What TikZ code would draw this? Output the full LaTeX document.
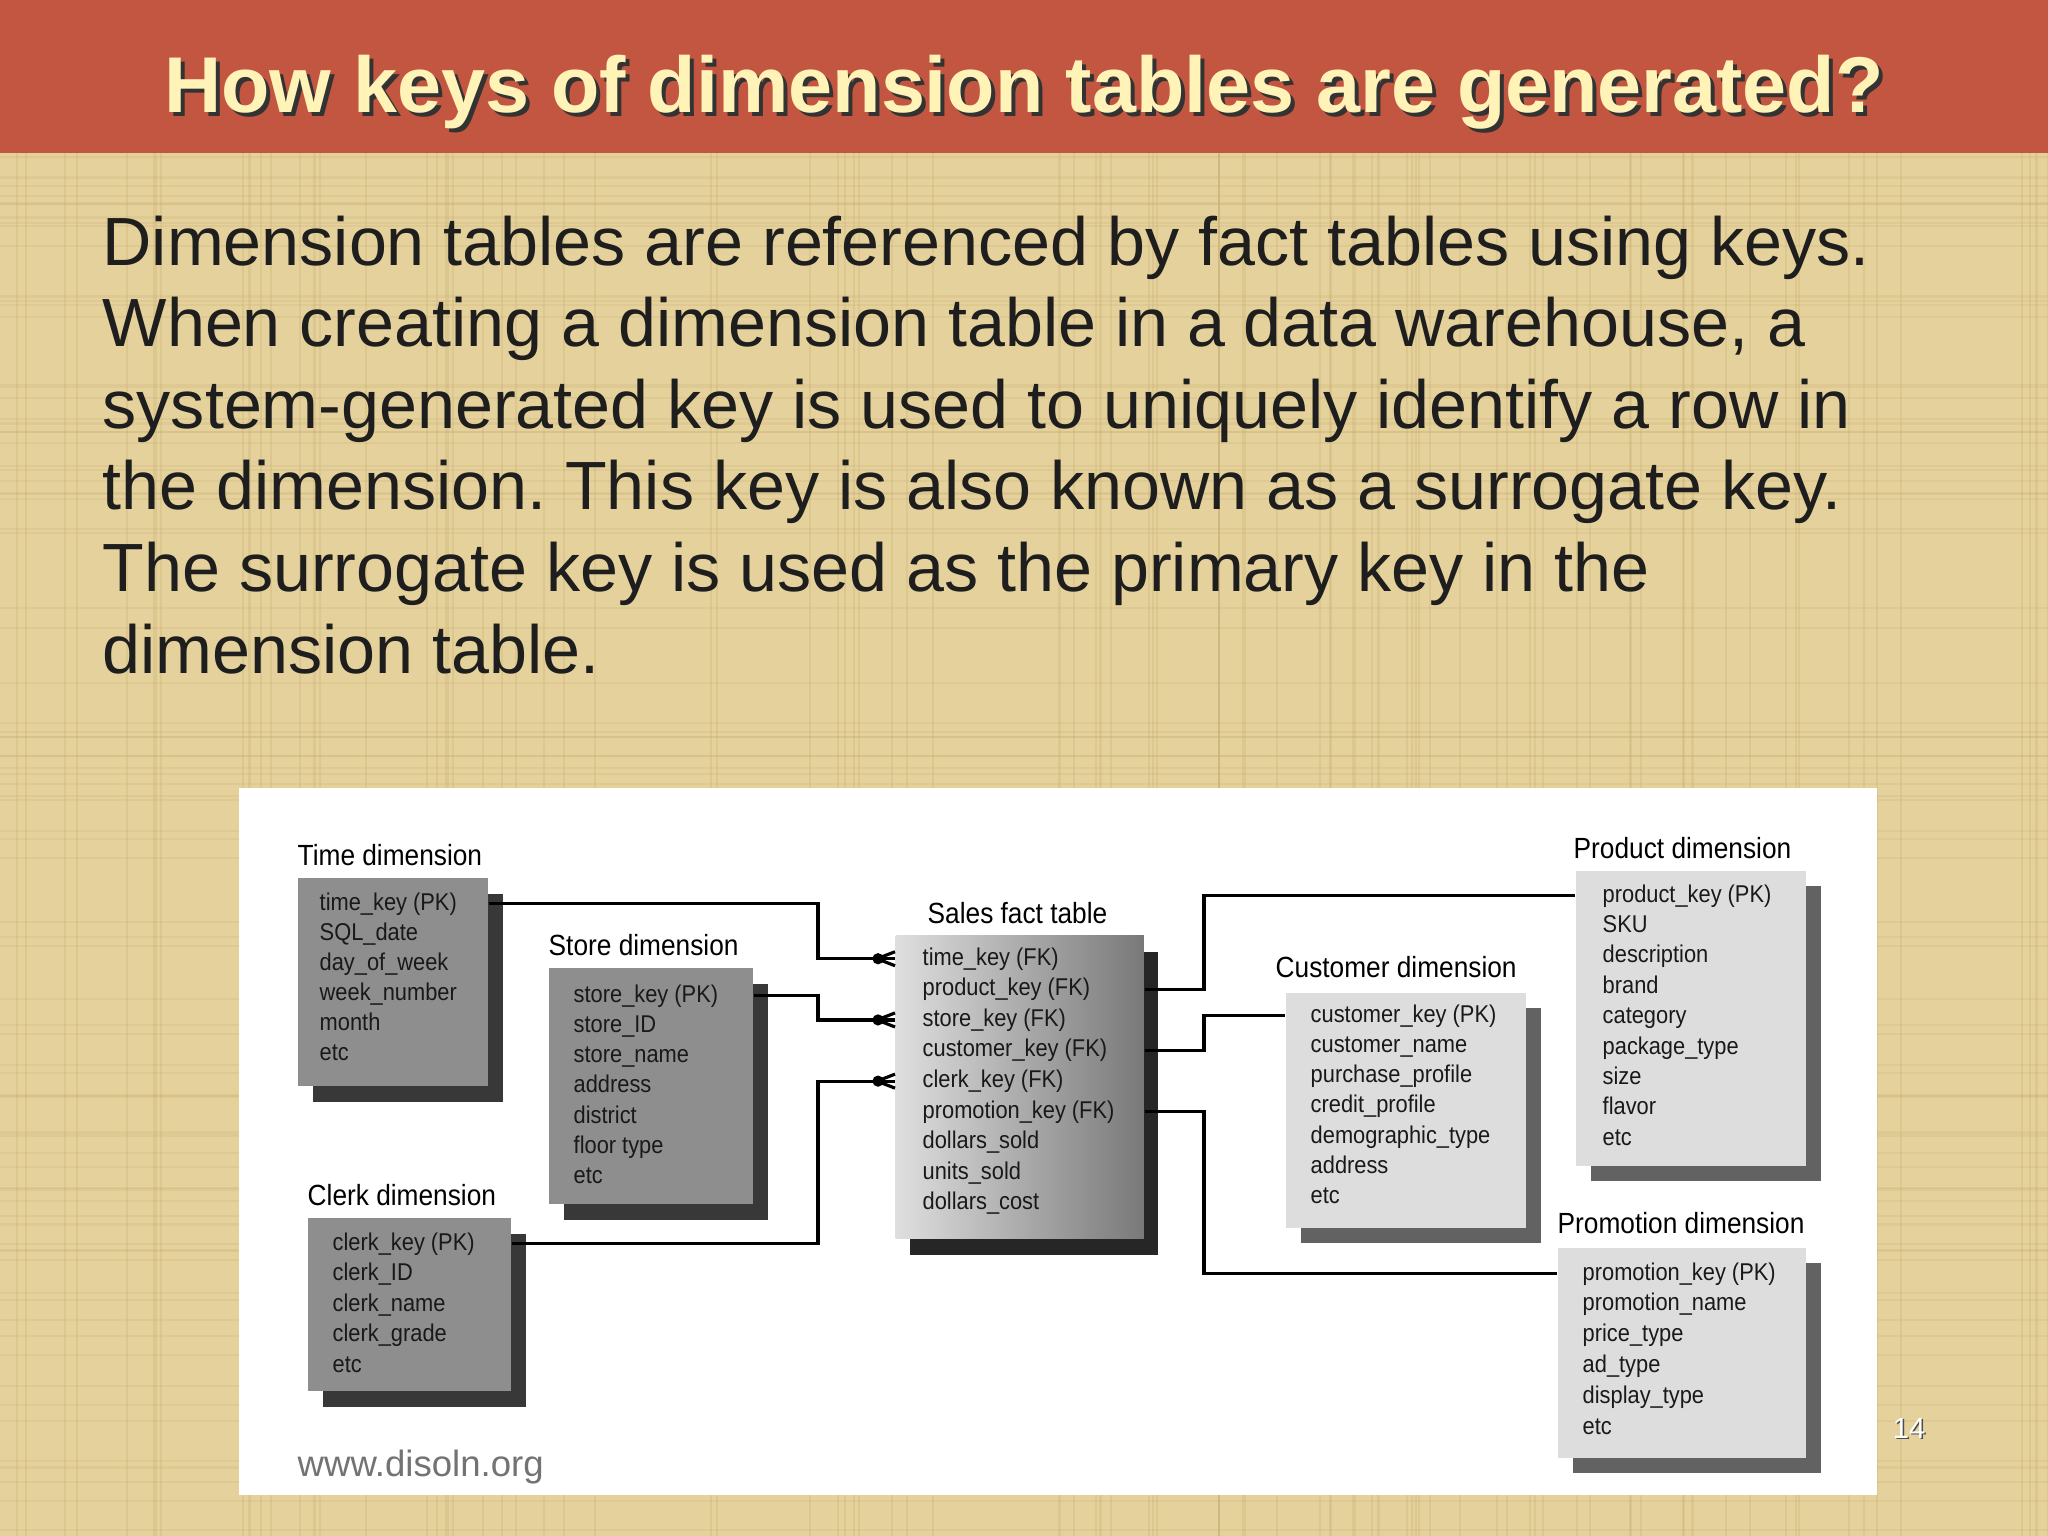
\documentclass[tikz,border=0pt]{standalone}
\usepackage{fontspec}
\setmainfont{Liberation Sans}
\newfontfamily\tablefont[FakeStretch=0.9]{Liberation Sans}
\usetikzlibrary{shadows}
\frenchspacing

\definecolor{barred}{RGB}{195,86,64}
\definecolor{parchment}{RGB}{229,209,155}
\definecolor{grain}{RGB}{196,170,110}
\definecolor{titlecream}{RGB}{255,243,184}
\definecolor{boxmid}{RGB}{142,142,142}
\definecolor{boxpale}{RGB}{221,221,221}
\definecolor{shadedark}{RGB}{56,56,56}
\definecolor{shadegray}{RGB}{98,98,98}
\definecolor{bodyink}{RGB}{30,30,30}

\tikzset{
	tablebox/.style={rectangle, anchor=north west, inner sep=0pt},
	darkbox/.style={tablebox, fill=boxmid, drop shadow={shadow xshift=0.15cm, shadow yshift=-0.16cm, fill=shadedark, opacity=1}},
	palebox/.style={tablebox, fill=boxpale, drop shadow={shadow xshift=0.15cm, shadow yshift=-0.15cm, fill=shadegray, opacity=1}},
	factbox/.style={tablebox, left color=boxpale!95!white, right color=boxmid!85!black, drop shadow={shadow xshift=0.14cm, shadow yshift=-0.16cm, fill=black!85, opacity=1}},
	headtext/.style={anchor=base west, inner sep=0pt, font=\tablefont\fontsize{8.3pt}{10pt}\selectfont},
	rowtext/.style={anchor=base west, inner sep=0pt, text=black!90, font=\tablefont\fontsize{6.9pt}{8pt}\selectfont},
	link/.style={draw=black, line width=0.9pt},
	crowfoot/.pic={
		\draw[line width=0.9pt] (-18,0) -- (0,7) (-18,0) -- (0,-7);
		\fill (-17,0) circle (1.6pt);
	}
}

\begin{document}
\begin{tikzpicture}[x=0.01cm,y=-0.01cm]
	\useasboundingbox (0,0) rectangle (2048,1536);
	\fill[parchment] (0,0) rectangle (2048,1536);
	\pgfmathsetseed{14}
	\foreach \k in {1,...,90}{
		\pgfmathsetmacro{\gx}{2048*rnd}
		\pgfmathsetmacro{\gy}{1536*rnd}
		\draw[grain, opacity=0.25, line width=0.6pt] (\gx,153) -- (\gx,1536);
		\draw[grain, opacity=0.2, line width=0.6pt] (0,\gy) -- (2048,\gy);
	}
	\fill[barred] (0,0) rectangle (2048,153);

	\node[anchor=base, text=black!80, font=\fontsize{22.5pt}{27pt}\selectfont\bfseries] (titleshade) at (1028,116) {How keys of dimension tables are generated?};
	\node[anchor=base, text=titlecream, font=\fontsize{22.5pt}{27pt}\selectfont\bfseries] (title) at (1024,112) {How keys of dimension tables are generated?};

	\node[anchor=north west, inner sep=0pt, align=left, text=bodyink, font=\fontsize{19.4pt}{23.2pt}\selectfont] (body) at (102,215) {Dimension tables are referenced by fact tables using keys.\\When creating a dimension table in a data warehouse, a\\system-generated key is used to uniquely identify a row in\\the dimension. This key is also known as a surrogate key.\\The surrogate key is used as the primary key in the\\dimension table.};

	\fill[white] (239,788) rectangle (1877,1495);

	\node[darkbox, minimum width=1.90cm, minimum height=2.08cm] (time) at (297,877) {};
	\node[darkbox, minimum width=2.04cm, minimum height=2.36cm] (store) at (548,967) {};
	\node[darkbox, minimum width=2.03cm, minimum height=1.73cm] (clerk) at (307,1217) {};
	\node[factbox, minimum width=2.48cm, minimum height=3.03cm] (sales) at (895,935) {};
	\node[palebox, minimum width=2.40cm, minimum height=2.35cm] (customer) at (1285,992) {};
	\node[palebox, minimum width=2.30cm, minimum height=2.95cm] (product) at (1575,870) {};
	\node[palebox, minimum width=2.48cm, minimum height=2.10cm] (promo) at (1557,1247) {};

	\node[headtext] (timehead) at (297,865) {Time dimension};
	\node[headtext] (storehead) at (548,955) {Store dimension};
	\node[headtext] (clerkhead) at (307,1205) {Clerk dimension};
	\node[headtext] (saleshead) at (927,923) {Sales fact table};
	\node[headtext] (customerhead) at (1275,977) {Customer dimension};
	\node[headtext] (producthead) at (1573,858) {Product dimension};
	\node[headtext] (promohead) at (1557,1233) {Promotion dimension};

	\foreach \row [count=\i from 0] in {{time\_key (PK)},SQL\_date,day\_of\_week,week\_number,month,etc}
		\node[rowtext] (time\i) at (319,{910+30*\i}) {\row};
	\foreach \row [count=\i from 0] in {{store\_key (PK)},store\_ID,store\_name,address,district,floor type,etc}
		\node[rowtext] (store\i) at (573,{1002+30.3*\i}) {\row};
	\foreach \row [count=\i from 0] in {{clerk\_key (PK)},clerk\_ID,clerk\_name,clerk\_grade,etc}
		\node[rowtext] (clerk\i) at (332,{1250+30.5*\i}) {\row};
	\foreach \row [count=\i from 0] in {{time\_key (FK)},{product\_key (FK)},{store\_key (FK)},{customer\_key (FK)},{clerk\_key (FK)},{promotion\_key (FK)},dollars\_sold,units\_sold,dollars\_cost}
		\node[rowtext] (sales\i) at (922,{965+30.6*\i}) {\row};
	\foreach \row [count=\i from 0] in {{customer\_key (PK)},customer\_name,purchase\_profile,credit\_profile,demographic\_type,address,etc}
		\node[rowtext] (customer\i) at (1310,{1022+30.3*\i}) {\row};
	\foreach \row [count=\i from 0] in {{product\_key (PK)},SKU,description,brand,category,package\_type,size,flavor,etc}
		\node[rowtext] (product\i) at (1602,{902+30.4*\i}) {\row};
	\foreach \row [count=\i from 0] in {{promotion\_key (PK)},promotion\_name,price\_type,ad\_type,display\_type,etc}
		\node[rowtext] (promo\i) at (1582,{1280+30.8*\i}) {\row};

	\coordinate (jogL) at (818,0);
	\coordinate (jogR) at (1204,0);

	\draw[link] (time.east |- time0) -- (time0 -| jogL) |- (sales.west |- sales0);
	\draw[link] (store.east |- store0) -- (store0 -| jogL) |- (sales.west |- sales2);
	\draw[link] (clerk.east |- clerk0) -- (clerk0 -| jogL) |- (sales.west |- sales4);
	\draw[link] (sales.east |- sales1) -- (sales1 -| jogR) |- (product.west |- product0);
	\draw[link] (sales.east |- sales3) -- (sales3 -| jogR) |- (customer.west |- customer0);
	\draw[link] (sales.east |- sales5) -- (sales5 -| jogR) |- (promo.west |- promo0);

	\pic at (sales.west |- sales0) {crowfoot};
	\pic at (sales.west |- sales2) {crowfoot};
	\pic at (sales.west |- sales4) {crowfoot};

	\node[anchor=west, inner sep=0pt, text=black!55, font=\fontsize{10.4pt}{12pt}\selectfont] (source) at (297,1467) {www.disoln.org};

	\node[anchor=base, text=black!70, font=\fontsize{8.3pt}{10pt}\selectfont] (pageshade) at (1910.5,1439.5) {14};
	\node[anchor=base, text=white, font=\fontsize{8.3pt}{10pt}\selectfont] (page) at (1909,1438) {14};
\end{tikzpicture}
\end{document}
